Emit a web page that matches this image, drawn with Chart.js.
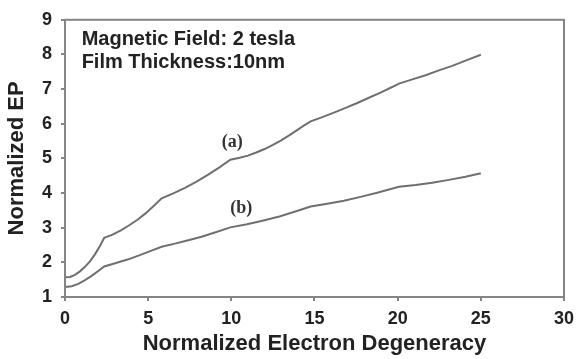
<!DOCTYPE html>
<html>
<head>
<meta charset="utf-8">
<script src="https://cdn.jsdelivr.net/npm/chart.js@4/dist/chart.umd.min.js"></script>
<style>
  html, body { margin: 0; padding: 0; background: #fff; }
  #wrap { width: 581px; height: 359px; }
</style>
</head>
<body>
<div id="wrap"><canvas id="grafico" width="581" height="359"></canvas></div>
<script>
// curva (a)
var xA = [0, 0.3, 0.6, 0.9, 1.2, 1.5, 1.8, 2.1, 2.36,
          2.86, 3.36, 3.86, 4.36, 4.86, 5.36, 5.81,
          6.51, 7.21, 7.91, 8.61, 9.31, 9.94,
          10.5, 11.0, 11.5, 12.0, 12.5, 13.0, 13.5, 14.0, 14.4, 14.77,
          15.47, 16.17, 16.87, 17.57, 18.27, 18.97, 19.67, 20.08,
          20.88, 21.68, 22.48, 23.28, 24.08, 25.0];
var yA = [1.57, 1.58, 1.64, 1.74, 1.87, 2.03, 2.23, 2.47, 2.71,
          2.80, 2.92, 3.07, 3.23, 3.42, 3.64, 3.85,
          3.99, 4.15, 4.33, 4.53, 4.75, 4.96,
          5.02, 5.08, 5.17, 5.27, 5.39, 5.52, 5.67, 5.83, 5.96, 6.07,
          6.19, 6.32, 6.46, 6.60, 6.75, 6.90, 7.06, 7.16,
          7.28, 7.40, 7.54, 7.67, 7.82, 7.99];
// curva (b)
var xB = [0, 0.4, 0.8, 1.2, 1.6, 2.0, 2.36,
          3.06, 3.76, 4.46, 5.16, 5.81,
          6.61, 7.41, 8.21, 9.01, 9.94,
          10.94, 11.94, 12.94, 13.94, 14.77,
          15.77, 16.77, 17.77, 18.77, 20.08,
          21.08, 22.08, 23.08, 24.08, 25.0];
var yB = [1.29, 1.31, 1.38, 1.49, 1.61, 1.75, 1.88,
          1.98, 2.08, 2.20, 2.33, 2.45,
          2.54, 2.64, 2.74, 2.86, 3.01,
          3.10, 3.21, 3.33, 3.48, 3.61,
          3.69, 3.78, 3.89, 4.01, 4.18,
          4.23, 4.30, 4.38, 4.47, 4.57];

var noteRighe = ['Magnetic Field: 2 tesla', 'Film Thickness:10nm'];
var etichette = [
    { testo: '(a)', x: 10.05, y: 5.45 },
    { testo: '(b)', x: 10.6, y: 3.55 }
];

function punti(xs, ys) {
    return xs.map(function (v, i) { return { x: v, y: ys[i] }; });
}

var grigio = '#6f6f6f';
var bordo = '#858585';

// cornice + testi dentro il grafico
var pluginTesti = {
    id: 'testi',
    afterDraw: function (chart) {
        var ctx = chart.ctx;
        var a = chart.chartArea;
        var sx = chart.scales.x, sy = chart.scales.y;
        ctx.save();
        ctx.strokeStyle = bordo;
        ctx.lineWidth = 2;
        ctx.strokeRect(a.left, a.top, a.right - a.left, a.bottom - a.top);

        ctx.fillStyle = '#222';
        ctx.font = 'bold 20px "Liberation Sans", Arial, sans-serif';
        ctx.textAlign = 'left';
        ctx.textBaseline = 'alphabetic';
        ctx.fillText(noteRighe[0], sx.getPixelForValue(1.0), sy.getPixelForValue(8.26));
        ctx.fillText(noteRighe[1], sx.getPixelForValue(1.0), sy.getPixelForValue(7.61));

        ctx.fillStyle = '#333';
        ctx.font = 'bold 18px "Liberation Serif", "Times New Roman", serif';
        ctx.textAlign = 'center';
        ctx.textBaseline = 'middle';
        etichette.forEach(function (e) {
            ctx.fillText(e.testo, sx.getPixelForValue(e.x), sy.getPixelForValue(e.y));
        });
        ctx.restore();
    }
};

var fontTick = { family: '"Liberation Sans", Arial, sans-serif', size: 18, weight: 'bold' };
var fontTitolo = { family: '"Liberation Sans", Arial, sans-serif', size: 22, weight: 'bold' };

new Chart(document.getElementById('grafico').getContext('2d'), {
    type: 'scatter',
    data: {
        datasets: [
            {
                label: '(a)',
                data: punti(xA, yA),
                showLine: true,
                borderColor: grigio,
                borderWidth: 2,
                pointRadius: 0,
                tension: 0
            },
            {
                label: '(b)',
                data: punti(xB, yB),
                showLine: true,
                borderColor: grigio,
                borderWidth: 2,
                pointRadius: 0,
                tension: 0
            }
        ]
    },
    options: {
        responsive: false,
        animation: false,
        layout: { padding: { top: 15, right: 8, left: 0, bottom: 0 } },
        plugins: {
            legend: { display: false },
            tooltip: { enabled: false }
        },
        scales: {
            x: {
                type: 'linear',
                min: 0,
                max: 30,
                ticks: { stepSize: 5, color: '#222', font: fontTick, padding: 7, maxRotation: 0 },
                grid: { drawOnChartArea: false, drawTicks: true, tickLength: 4, color: bordo, lineWidth: 2 },
                border: { display: false },
                title: { display: true, text: 'Normalized Electron Degeneracy', color: '#222', font: fontTitolo, padding: { top: 0, bottom: 2 } },
                afterFit: function (s) { s.height = 62; }
            },
            y: {
                type: 'linear',
                min: 1,
                max: 9,
                ticks: { stepSize: 1, color: '#222', font: fontTick, padding: 9 },
                grid: { drawOnChartArea: false, drawTicks: true, tickLength: 4, color: bordo, lineWidth: 2 },
                border: { display: false },
                title: { display: true, text: 'Normalized EP', color: '#222', font: fontTitolo, padding: { top: 4, bottom: 0 } },
                afterFit: function (s) { s.width = 65; }
            }
        }
    },
    plugins: [pluginTesti]
});
</script>
</body>
</html>
